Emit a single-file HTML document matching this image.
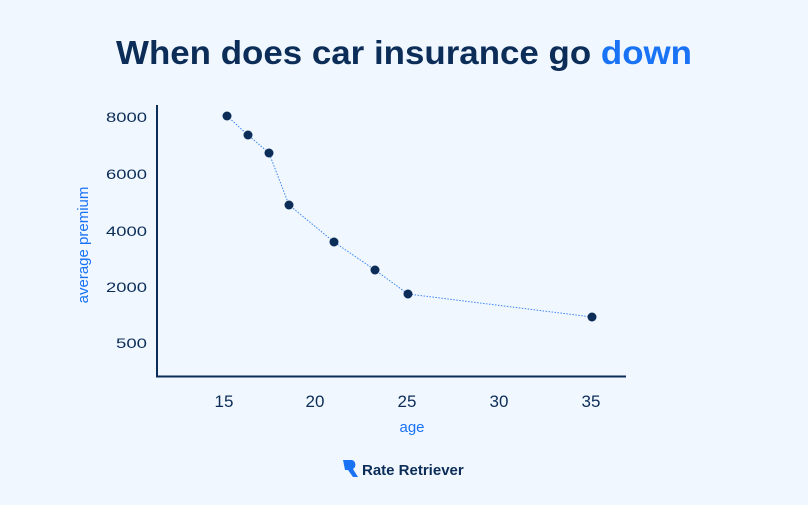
<!DOCTYPE html>
<html><head><style>
body{margin:0;width:808px;height:500px;background:#f0f7ff;overflow:hidden;font-family:"Liberation Sans",sans-serif}
</style></head><body>
<svg width="808" height="500" xmlns="http://www.w3.org/2000/svg">
<text x="404" y="64" text-anchor="middle" font-family="Liberation Sans, sans-serif" font-size="33" font-weight="bold" fill="#0b2d58" textLength="576" lengthAdjust="spacingAndGlyphs">When does car insurance go <tspan fill="#1a73f5">down</tspan></text>
<line x1="157" y1="105" x2="157" y2="377" stroke="#0b2d58" stroke-width="2"/>
<line x1="156" y1="376.5" x2="626" y2="376.5" stroke="#0b2d58" stroke-width="2"/>
<g font-size="14" fill="#0b2d58" text-anchor="end" font-family="Liberation Sans, sans-serif">
<text x="147" y="122" textLength="41" lengthAdjust="spacingAndGlyphs">8000</text><text x="147" y="179" textLength="41" lengthAdjust="spacingAndGlyphs">6000</text><text x="147" y="236" textLength="41" lengthAdjust="spacingAndGlyphs">4000</text><text x="147" y="292" textLength="41" lengthAdjust="spacingAndGlyphs">2000</text><text x="147" y="348" textLength="31" lengthAdjust="spacingAndGlyphs">500</text>
</g>
<g font-size="17" fill="#0b2d58" text-anchor="middle" font-family="Liberation Sans, sans-serif">
<text x="224" y="407">15</text><text x="315" y="407">20</text><text x="407" y="407">25</text><text x="499" y="407">30</text><text x="591" y="407">35</text>
</g>
<text x="412" y="432" text-anchor="middle" font-size="15" fill="#1a73f5">age</text>
<text transform="translate(88,245) rotate(-90)" text-anchor="middle" font-size="15" fill="#1a73f5">average premium</text>
<polyline points="227,116 248,135 269,153 289,205 334,242 375,270 408,294 592,317" fill="none" stroke="#3d86f5" stroke-width="1" stroke-dasharray="1.5,1.5"/>
<g fill="#0b2d58">
<circle cx="227" cy="116" r="4.5"/><circle cx="248" cy="135" r="4.5"/><circle cx="269" cy="153" r="4.5"/><circle cx="289" cy="205" r="4.5"/><circle cx="334" cy="242" r="4.5"/><circle cx="375" cy="270" r="4.5"/><circle cx="408" cy="294" r="4.5"/><circle cx="592" cy="317" r="4.5"/>
</g>
<path d="M343,460 h9 a5,5 0 0 1 1,9 l5,8 h-5 l-5,-7 h-3 z" fill="#1a73f5"/>
<text x="362" y="475" font-size="15" font-weight="bold" fill="#0b2d58">Rate Retriever</text>
</svg>
</body></html>
